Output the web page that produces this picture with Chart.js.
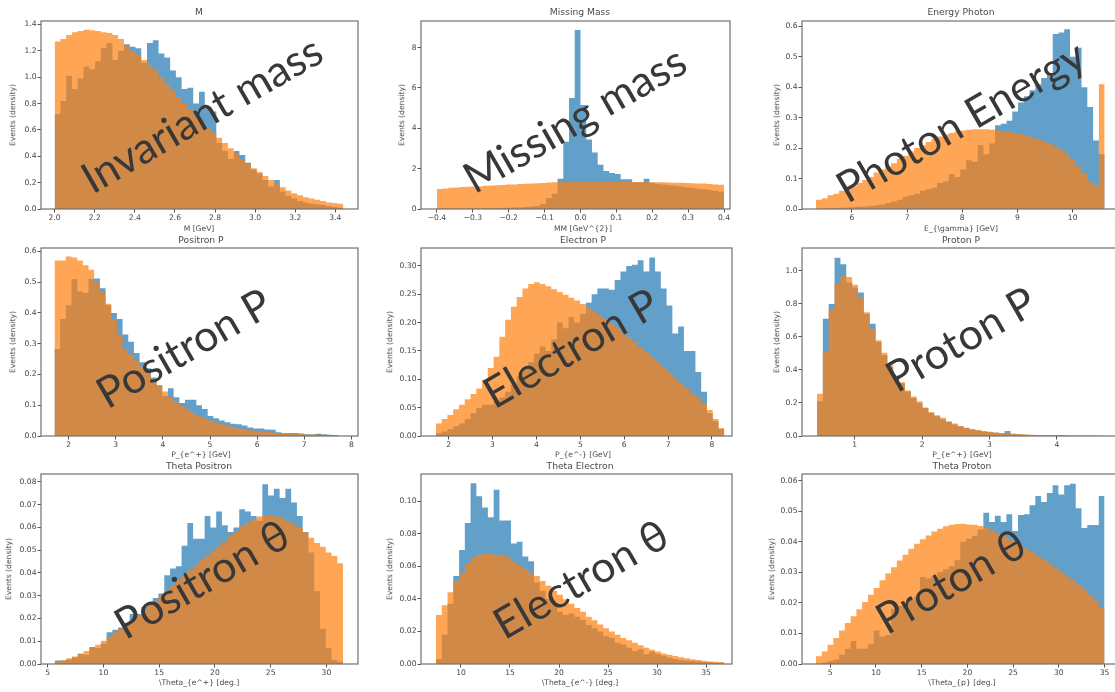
<!DOCTYPE html>
<html>
<head>
<meta charset="utf-8">
<script src="https://cdn.jsdelivr.net/npm/chart.js@4.4.1/dist/chart.umd.min.js"></script>
<style>
html,body{margin:0;padding:0;background:#fff;overflow:hidden;width:1115px;height:692px}
#page{position:relative;width:1115px;height:692px;overflow:hidden}
.lbl{position:absolute;white-space:nowrap;font-family:"DejaVu Sans",sans-serif;color:#4a4a4a;line-height:1}
.big{position:absolute;white-space:nowrap;font-family:Lato,"Noto Sans",sans-serif;font-size:43px;color:#383838;line-height:1}
</style>
</head>
<body>
<div id="page"></div>
<script>
var titles = ["M","Missing Mass","Energy Photon","Positron P","Electron P","Proton P","Theta Positron","Theta Electron","Theta Proton"];
var xTitles = ["M [GeV]","MM [GeV^{2}]","E_{\\gamma} [GeV]","P_{e^+} [GeV]","P_{e^-} [GeV]","P_{e^+} [GeV]","\\Theta_{e^+} [deg.]","\\Theta_{e^-} [deg.]","\\Theta_{p} [deg.]"];
var yTitle = "Events (density)";
var bigTexts = ["Invariant mass","Missing mass","Photon Energy","Positron P","Electron P","Proton P","Positron \u03b8","Electron \u03b8","Proton \u03b8"];

// bin ranges [first edge, last edge], 50 bins each
var binRanges = [[2.0,3.44],[-0.4,0.4],[5.35,10.58],[1.70,7.72],[1.71,8.28],[0.44,4.79],[5.63,31.49],[7.45,36.87],[3.44,35.0]];

var mBlue = [0.72,0.82,1.01,0.91,0.99,1.08,1.06,1.12,1.22,1.26,1.13,1.20,1.25,1.23,1.22,1.11,1.26,1.28,1.18,1.15,1.05,1.00,0.91,0.92,0.80,0.89,0.76,0.74,0.50,0.44,0.38,0.44,0.41,0.35,0.30,0.27,0.22,0.17,0.22,0.13,0.10,0.08,0.06,0.05,0.04,0.035,0.03,0.02,0.015,0.01];
var mOrange = [1.27,1.29,1.32,1.34,1.35,1.36,1.355,1.35,1.34,1.335,1.32,1.29,1.24,1.20,1.17,1.13,1.09,1.05,1.00,0.95,0.90,0.85,0.80,0.75,0.70,0.66,0.62,0.58,0.54,0.50,0.46,0.42,0.38,0.34,0.31,0.28,0.25,0.22,0.19,0.165,0.14,0.12,0.105,0.09,0.08,0.07,0.06,0.05,0.045,0.04];
var mmBlue = [0.02,0.02,0.02,0.02,0.03,0.03,0.03,0.03,0.04,0.04,0.05,0.05,0.06,0.07,0.08,0.10,0.12,0.15,0.25,0.55,0.75,1.5,3.34,5.5,8.87,5.15,3.45,2.8,2.19,1.89,1.78,1.74,1.48,1.48,1.33,1.33,1.5,1.3,1.25,1.22,1.18,1.15,1.12,1.08,1.05,1.01,0.98,0.94,0.9,0.85];
var mmOrange = [0.99,1.02,1.05,1.07,1.09,1.10,1.12,1.13,1.15,1.16,1.18,1.19,1.21,1.22,1.24,1.25,1.27,1.28,1.29,1.31,1.32,1.33,1.34,1.34,1.35,1.35,1.35,1.35,1.35,1.35,1.35,1.35,1.35,1.34,1.34,1.34,1.33,1.33,1.32,1.32,1.31,1.30,1.30,1.29,1.28,1.27,1.26,1.24,1.22,1.20];
var egBlue = [0,0.002,0.003,0.003,0.004,0.005,0.006,0.007,0.008,0.01,0.012,0.015,0.02,0.025,0.03,0.04,0.045,0.05,0.06,0.065,0.07,0.085,0.09,0.115,0.105,0.13,0.16,0.155,0.21,0.18,0.215,0.275,0.28,0.29,0.32,0.35,0.37,0.39,0.41,0.43,0.44,0.575,0.58,0.59,0.50,0.53,0.40,0.335,0.225,0.18];
var egOrange = [0.03,0.035,0.045,0.05,0.06,0.065,0.075,0.085,0.095,0.105,0.12,0.13,0.14,0.15,0.165,0.175,0.19,0.20,0.21,0.22,0.23,0.238,0.245,0.25,0.255,0.258,0.26,0.262,0.262,0.262,0.26,0.258,0.256,0.253,0.25,0.246,0.24,0.235,0.23,0.222,0.215,0.205,0.195,0.18,0.16,0.14,0.115,0.09,0.075,0.41];
var pposBlue = [0.283,0.38,0.425,0.51,0.47,0.465,0.51,0.512,0.48,0.425,0.40,0.38,0.33,0.306,0.27,0.24,0.22,0.19,0.165,0.13,0.155,0.126,0.107,0.118,0.118,0.10,0.088,0.065,0.058,0.05,0.045,0.04,0.038,0.034,0.028,0.024,0.024,0.021,0.02,0.012,0.01,0.01,0.01,0.008,0.006,0.005,0.007,0.006,0.004,0.003];
var pposOrange = [0.57,0.57,0.583,0.58,0.57,0.555,0.54,0.50,0.47,0.43,0.38,0.33,0.28,0.265,0.245,0.225,0.205,0.185,0.165,0.145,0.125,0.11,0.097,0.086,0.075,0.066,0.058,0.05,0.044,0.038,0.033,0.029,0.025,0.022,0.019,0.017,0.015,0.013,0.011,0.01,0.009,0.008,0.007,0.006,0.005,0.005,0.004,0.004,0.003,0.003];
var epBlue = [0.005,0.008,0.012,0.017,0.022,0.03,0.04,0.05,0.055,0.055,0.06,0.068,0.078,0.09,0.105,0.12,0.13,0.145,0.158,0.15,0.17,0.2,0.19,0.21,0.2,0.215,0.235,0.25,0.26,0.26,0.258,0.275,0.29,0.3,0.302,0.31,0.29,0.315,0.29,0.26,0.23,0.181,0.193,0.15,0.15,0.113,0.078,0.04,0.026,0.012];
var epOrange = [0.022,0.030,0.037,0.047,0.055,0.065,0.074,0.084,0.099,0.12,0.14,0.175,0.205,0.228,0.245,0.26,0.268,0.271,0.268,0.264,0.259,0.254,0.249,0.244,0.239,0.233,0.227,0.22,0.213,0.206,0.198,0.19,0.182,0.174,0.166,0.157,0.148,0.139,0.13,0.121,0.112,0.103,0.094,0.085,0.076,0.068,0.058,0.046,0.03,0.014];
var pprBlue = [0.21,0.71,0.80,1.08,1.04,0.93,0.90,0.87,0.74,0.68,0.57,0.49,0.42,0.36,0.32,0.27,0.23,0.2,0.17,0.14,0.12,0.1,0.085,0.07,0.058,0.048,0.04,0.034,0.028,0.024,0.02,0.017,0.03,0.013,0.01,0.007,0.006,0.005,0.004,0.004,0.004,0.006,0.003,0.002,0.002,0.001,0.001,0.001,0,0];
var pprOrange = [0.256,0.51,0.77,0.924,0.97,0.964,0.917,0.84,0.75,0.65,0.58,0.505,0.43,0.366,0.326,0.276,0.24,0.21,0.173,0.145,0.125,0.11,0.089,0.075,0.06,0.05,0.042,0.036,0.03,0.025,0.021,0.018,0.015,0.012,0.01,0.009,0.007,0.006,0.005,0.004,0.004,0.003,0.003,0.002,0.002,0.001,0.001,0.001,0.001,0];
var ptpBlue = [0.0015,0.0015,0.002,0.003,0.0045,0.004,0.0075,0.007,0.009,0.014,0.015,0.016,0.018,0.022,0.022,0.025,0.027,0.029,0.031,0.039,0.042,0.043,0.052,0.062,0.055,0.055,0.065,0.06,0.067,0.061,0.058,0.06,0.068,0.067,0.065,0.063,0.079,0.074,0.077,0.073,0.077,0.071,0.065,0.058,0.049,0.032,0.0155,0.007,0.0018,0.001];
var ptpOrange = [0.0012,0.0016,0.0025,0.0033,0.0045,0.0057,0.007,0.0085,0.0102,0.012,0.0138,0.0156,0.0175,0.0195,0.0215,0.0236,0.0257,0.0278,0.03,0.0322,0.0345,0.0368,0.039,0.0412,0.0435,0.0457,0.0478,0.0498,0.0517,0.0535,0.0562,0.0585,0.0605,0.0622,0.0637,0.0648,0.0652,0.0652,0.0648,0.064,0.0628,0.0613,0.0598,0.0578,0.0555,0.0532,0.0515,0.049,0.0475,0.0443];
var pteBlue = [0.003,0.018,0.037,0.054,0.07,0.0865,0.111,0.103,0.096,0.09,0.107,0.088,0.088,0.074,0.075,0.066,0.063,0.05,0.045,0.04,0.036,0.032,0.03,0.031,0.029,0.027,0.024,0.022,0.02,0.017,0.016,0.013,0.012,0.01,0.008,0.009,0.006,0.0075,0.006,0.005,0.0038,0.003,0.0025,0.002,0.0018,0.0015,0.001,0.001,0.0008,0.0005];
var pteOrange = [0.030,0.036,0.044,0.051,0.056,0.062,0.065,0.067,0.068,0.068,0.067,0.067,0.065,0.063,0.0605,0.0585,0.056,0.054,0.051,0.048,0.045,0.0425,0.0397,0.037,0.0343,0.032,0.029,0.0268,0.0243,0.022,0.02,0.018,0.016,0.0145,0.013,0.0115,0.01,0.0088,0.0076,0.0065,0.0057,0.0049,0.0041,0.0035,0.0029,0.0025,0.002,0.0016,0.0014,0.0012];
var ptprBlue = [0,0.0005,0.001,0.0015,0.003,0.005,0.0075,0.005,0.005,0.0065,0.011,0.009,0.0095,0.018,0.019,0.02,0.021,0.022,0.0285,0.028,0.029,0.03,0.031,0.032,0.034,0.04,0.041,0.042,0.044,0.0495,0.0465,0.0485,0.0465,0.049,0.0435,0.0488,0.049,0.052,0.055,0.053,0.056,0.0585,0.0555,0.0585,0.059,0.051,0.0445,0.0455,0.0455,0.055];
var ptprOrange = [0.0025,0.0041,0.0063,0.0085,0.011,0.0134,0.0156,0.0179,0.0203,0.0227,0.0249,0.0274,0.0296,0.0317,0.0339,0.0358,0.0377,0.0394,0.0408,0.0421,0.0434,0.0443,0.0451,0.0456,0.0458,0.0459,0.0457,0.0456,0.0452,0.0445,0.0437,0.0429,0.0419,0.041,0.0399,0.0388,0.0377,0.0367,0.0353,0.0341,0.0328,0.0314,0.0301,0.0287,0.0274,0.026,0.0244,0.0227,0.0208,0.0185];

var blues = [mBlue,mmBlue,egBlue,pposBlue,epBlue,pprBlue,ptpBlue,pteBlue,ptprBlue];
var oranges = [mOrange,mmOrange,egOrange,pposOrange,epOrange,pprOrange,ptpOrange,pteOrange,ptprOrange];

var xTicks = [
  ["2.0","2.2","2.4","2.6","2.8","3.0","3.2","3.4"],
  ["\u22120.4","\u22120.3","\u22120.2","\u22120.1","0.0","0.1","0.2","0.3","0.4"],
  ["6","7","8","9","10"],
  ["2","3","4","5","6","7","8"],
  ["2","3","4","5","6","7","8"],
  ["1","2","3","4"],
  ["5","10","15","20","25","30"],
  ["10","15","20","25","30","35"],
  ["5","10","15","20","25","30","35"]
];
var yTicks = [
  ["0.0","0.2","0.4","0.6","0.8","1.0","1.2","1.4"],
  ["0","2","4","6","8"],
  ["0.0","0.1","0.2","0.3","0.4","0.5","0.6"],
  ["0.0","0.1","0.2","0.3","0.4","0.5","0.6"],
  ["0.00","0.05","0.10","0.15","0.20","0.25","0.30"],
  ["0.0","0.2","0.4","0.6","0.8","1.0"],
  ["0.00","0.01","0.02","0.03","0.04","0.05","0.06","0.07","0.08"],
  ["0.00","0.02","0.04","0.06","0.08","0.10"],
  ["0.00","0.01","0.02","0.03","0.04","0.05","0.06"]
];
var xRanges = [[1.932,3.513],[-0.4445,0.4167],[5.096,10.84],[1.414,8.14],[1.37,8.456],[0.218,5.01],[4.40,32.83],[5.92,37.65],[1.91,36.58]];
var yMaxes = [1.426,9.32,0.6175,0.611,0.3316,1.139,0.0835,0.1166,0.0622];

// layout: plot boxes [left, top, right, bottom] and label spots
var boxes = [[41,21,358,209],[421,21,730,209],[802,21,1119,209],[41,248,358,436],[421,248,732,436],[802,248,1125,436],[41,474,358,664],[421,474,732,664],[802,474,1119,664]];
var titleAt = [[199,12],[580,12],[961,12],[201,240],[583,240],[961,240],[199,466],[580,466],[962,466]];
var xlabAt = [[199,229],[583,229],[961,229],[201,455],[583,455],[962,455],[199,683],[580,683],[962,683]];
var ylabX = [13,402,777,13,390,777,9,390,772];
var bigAt = [[201,113],[574,118],[960,120],[183,347],[570,347],[960,338],[201,578],[580,578],[950,580]];

var page = document.getElementById("page");

function steps(range, vals) {
  var w = (range[1] - range[0]) / vals.length;
  var pts = vals.map(function (v, i) { return {x: range[0] + i * w, y: v}; });
  pts.push({x: range[1], y: vals[vals.length - 1]});
  return pts;
}

function num(s) { return parseFloat(s.replace("\u2212", "-")); }

function addText(txt, x, y, cls, size, rot) {
  var d = document.createElement("div");
  d.className = cls;
  d.textContent = txt;
  d.style.left = x + "px";
  d.style.top = y + "px";
  if (size) d.style.fontSize = size + "px";
  d.style.transform = "translate(-50%,-50%)" + (rot ? " rotate(" + rot + "deg)" : "");
  page.appendChild(d);
}

var frame = {
  id: "frame",
  afterDraw: function (c) {
    var a = c.chartArea, ctx = c.ctx;
    ctx.save();
    ctx.strokeStyle = "#707070";
    ctx.lineWidth = 1.2;
    ctx.strokeRect(a.left, a.top, a.right - a.left, a.bottom - a.top);
    ctx.restore();
  }
};

var tickFont = {family: "DejaVu Sans", size: 7.6};

for (var k = 0; k < 9; k++) {
  (function (k) {
    var b = boxes[k];
    var w = b[2] - b[0] + 70, h = b[3] - b[1] + 60;
    var cv = document.createElement("canvas");
    cv.width = w; cv.height = h;
    cv.style.position = "absolute";
    cv.style.left = (b[0] - 60) + "px";
    cv.style.top = (b[1] - 30) + "px";
    page.appendChild(cv);

    new Chart(cv, {
      type: "line",
      data: {
        datasets: [
          {data: steps(binRanges[k], oranges[k]), order: 0, stepped: "before", fill: "origin",
           backgroundColor: "rgba(255,127,14,0.7)", borderColor: "rgba(0,0,0,0)", borderWidth: 0, pointRadius: 0},
          {data: steps(binRanges[k], blues[k]), order: 1, stepped: "before", fill: "origin",
           backgroundColor: "rgba(31,119,180,0.7)", borderColor: "rgba(0,0,0,0)", borderWidth: 0, pointRadius: 0}
        ]
      },
      options: {
        responsive: false,
        animation: false,
        events: [],
        layout: {padding: {left: 0, top: 30, right: 10, bottom: 0}},
        plugins: {legend: {display: false}, tooltip: {enabled: false}},
        scales: {
          x: {
            type: "linear", min: xRanges[k][0], max: xRanges[k][1],
            afterBuildTicks: function (s) { s.ticks = xTicks[k].map(function (t) { return {value: num(t)}; }); },
            afterFit: function (s) { s.height = 30; s.paddingLeft = 0; s.paddingRight = 0; },
            grid: {drawOnChartArea: false, tickLength: 3.5, color: "#555"},
            border: {display: false},
            ticks: {autoSkip: false, maxRotation: 0, padding: 1, font: tickFont, color: "#444",
                    callback: function (v, i) { return xTicks[k][i]; }}
          },
          y: {
            min: 0, max: yMaxes[k],
            afterBuildTicks: function (s) { s.ticks = yTicks[k].map(function (t) { return {value: num(t)}; }); },
            afterFit: function (s) { s.width = 60; s.paddingTop = 0; s.paddingBottom = 0; },
            grid: {drawOnChartArea: false, tickLength: 3.5, color: "#555"},
            border: {display: false},
            ticks: {autoSkip: false, padding: 1, font: tickFont, color: "#444",
                    callback: function (v, i) { return yTicks[k][i]; }}
          }
        }
      },
      plugins: [frame]
    });

    addText(titles[k], titleAt[k][0], titleAt[k][1], "lbl", 9.2);
    addText(xTitles[k], xlabAt[k][0], xlabAt[k][1], "lbl", 7.6);
    addText(yTitle, ylabX[k], (b[1] + b[3]) / 2, "lbl", 7.6, -90);
  })(k);
}

for (var j = 0; j < 9; j++) {
  addText(bigTexts[j], bigAt[j][0], bigAt[j][1], "big", 0, -30);
}
</script>
</body>
</html>
